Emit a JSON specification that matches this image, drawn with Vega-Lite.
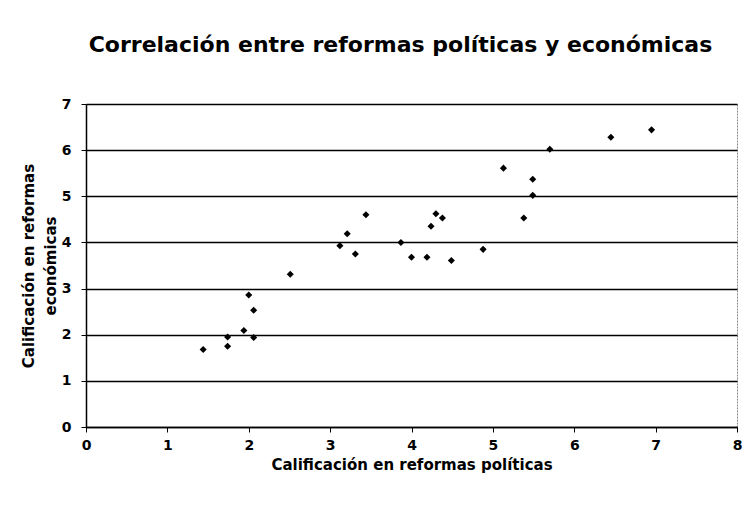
{
  "$schema": "https://vega.github.io/schema/vega-lite/v6.json",
  "width": 651,
  "height": 323,
  "autosize": "none",
  "padding": {"left": 86, "top": 104, "right": 9, "bottom": 86},
  "background": "white",
  "title": {
    "text": "Correlación entre reformas políticas y económicas",
    "font": "DejaVu Sans",
    "fontSize": 22,
    "fontWeight": "bold",
    "color": "black",
    "anchor": "middle",
    "offset": 40,
    "dx": -11
  },
  "data": {
    "values": [
      {"pol": 1.44, "eco": 1.68},
      {"pol": 1.74, "eco": 1.95},
      {"pol": 1.74, "eco": 1.75},
      {"pol": 1.94, "eco": 2.09},
      {"pol": 2.0, "eco": 2.86},
      {"pol": 2.06, "eco": 2.53},
      {"pol": 2.06, "eco": 1.94},
      {"pol": 2.51, "eco": 3.31},
      {"pol": 3.12, "eco": 3.93},
      {"pol": 3.21, "eco": 4.19},
      {"pol": 3.31, "eco": 3.75},
      {"pol": 3.44, "eco": 4.6},
      {"pol": 3.87, "eco": 4.0},
      {"pol": 4.0, "eco": 3.68},
      {"pol": 4.19, "eco": 3.68},
      {"pol": 4.24, "eco": 4.35},
      {"pol": 4.3, "eco": 4.62},
      {"pol": 4.38, "eco": 4.53},
      {"pol": 4.49, "eco": 3.61},
      {"pol": 4.88, "eco": 3.85},
      {"pol": 5.13, "eco": 5.61},
      {"pol": 5.38, "eco": 4.53},
      {"pol": 5.49, "eco": 5.37},
      {"pol": 5.49, "eco": 5.02},
      {"pol": 5.7, "eco": 6.02},
      {"pol": 6.45, "eco": 6.28},
      {"pol": 6.95, "eco": 6.44}
    ]
  },
  "mark": {"type": "point", "shape": "diamond", "filled": true, "color": "black", "opacity": 1, "size": 50},
  "encoding": {
    "x": {
      "field": "pol",
      "type": "quantitative",
      "scale": {"domain": [0, 8], "nice": false, "zero": true},
      "axis": {
        "title": "Calificación en reformas políticas",
        "values": [0, 1, 2, 3, 4, 5, 6, 7, 8],
        "grid": false,
        "domainColor": "black",
        "domainWidth": 1.5,
        "tickColor": "black",
        "tickSize": 5,
        "labelPadding": 6,
        "labelFont": "DejaVu Sans",
        "labelFontWeight": "bold",
        "labelFontSize": 14,
        "labelColor": "black",
        "labelFlush": false,
        "titleFont": "DejaVu Sans",
        "titleFontWeight": "bold",
        "titleFontSize": 15,
        "titleColor": "black",
        "titlePadding": 5
      }
    },
    "y": {
      "field": "eco",
      "type": "quantitative",
      "scale": {"domain": [0, 7], "nice": false, "zero": true},
      "axis": {
        "title": ["Calificación en reformas", "económicas"],
        "values": [0, 1, 2, 3, 4, 5, 6, 7],
        "grid": true,
        "gridColor": "black",
        "gridWidth": 1.5,
        "gridOpacity": 1,
        "domainColor": "black",
        "domainWidth": 1.5,
        "tickColor": "black",
        "tickSize": 5,
        "labelPadding": 10,
        "labelFont": "DejaVu Sans",
        "labelFontWeight": "bold",
        "labelFontSize": 14,
        "labelColor": "black",
        "labelFlush": false,
        "titleFont": "DejaVu Sans",
        "titleFontWeight": "bold",
        "titleFontSize": 15,
        "titleColor": "black",
        "titlePadding": 3,
        "titleLineHeight": 22
      }
    }
  },
  "config": {
    "view": {"stroke": "#888888", "strokeDash": [2, 1], "strokeWidth": 1}
  }
}
